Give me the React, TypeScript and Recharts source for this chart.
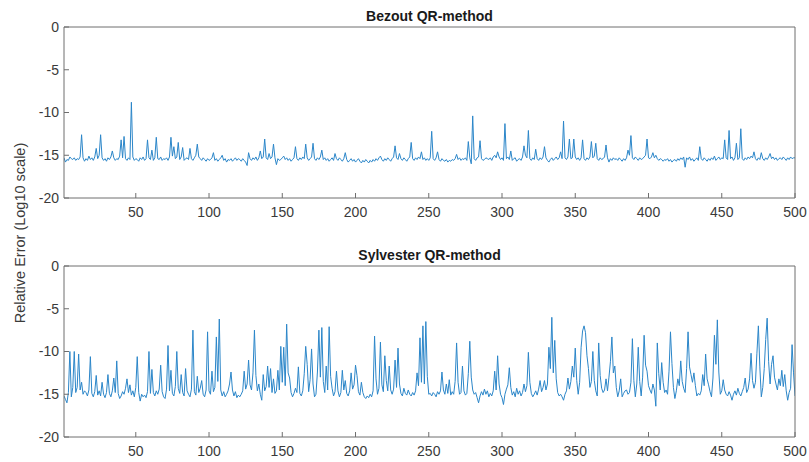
import React from "react";
import { LineChart, Line, XAxis, YAxis } from "recharts";

const xTicks = [50, 100, 150, 200, 250, 300, 350, 400, 450, 500];
const yTicks = [-20, -15, -10, -5, 0];
const titles = ["Bezout QR-method", "Sylvester QR-method"];
const yLabel = "Relative Error (Log10 scale)";

const bezout = [
  -15.3, -15.8, -15.5, -15.6, -15.2, -15.4, -15.5, -15.3, -15.6, -15.4, -15.5, -15.2, -12.6, -15.3, -15.7, -15.4, -15.6, -15.1, -15.5, -15.3,
  -15.6, -15.2, -14.2, -15.4, -15.0, -12.6, -15.3, -15.6, -15.4, -15.7, -15.3, -15.5, -15.2, -14.5, -15.3, -15.6, -15.4, -15.5, -15.1, -13.2,
  -15.3, -12.8, -15.4, -15.6, -15.3, -15.5, -8.8, -15.2, -15.6, -15.4, -15.5, -15.7, -15.3, -15.5, -15.2, -15.6, -15.4, -13.2, -15.3, -15.5,
  -14.4, -15.6, -15.3, -12.9, -15.4, -15.5, -15.2, -15.6, -15.4, -15.5, -15.3, -15.6, -15.2, -12.9, -15.1, -14.0, -15.4, -15.2, -13.5, -15.5,
  -15.2, -14.1, -15.6, -15.4, -15.3, -15.5, -14.2, -15.4, -15.6, -15.3, -15.0, -13.7, -15.2, -15.4, -15.6, -15.3, -15.5, -15.7, -15.4, -15.6,
  -15.5, -15.3, -14.7, -15.6, -15.4, -15.7, -15.5, -15.3, -15.0, -15.6, -15.4, -15.8, -15.5, -15.6, -15.4, -15.7, -15.5, -15.3, -15.6, -15.4,
  -15.5, -15.7, -15.4, -15.6, -15.8, -16.2, -14.7, -15.4, -15.6, -15.3, -15.5, -15.2, -15.6, -15.3, -14.5, -15.4, -15.2, -13.1, -15.3, -15.5,
  -14.8, -15.4, -15.2, -13.7, -15.3, -16.1, -15.4, -15.6, -15.5, -15.3, -15.1, -15.5, -15.3, -15.6, -15.4, -15.7, -15.5, -15.3, -14.0, -15.4,
  -15.6, -15.3, -15.5, -15.2, -15.4, -13.7, -15.3, -15.6, -15.4, -15.2, -13.6, -15.4, -15.6, -15.3, -15.5, -15.2, -14.4, -15.5, -15.3, -15.6,
  -15.4, -15.7, -15.5, -15.3, -15.6, -14.8, -15.4, -15.6, -15.3, -15.5, -15.7, -15.4, -14.7, -15.5, -15.8, -15.6, -15.4, -15.7, -15.5, -15.8,
  -15.6, -15.4, -15.7, -15.9, -15.6, -15.8, -15.5, -15.7, -15.9, -15.6, -15.8, -15.5, -15.7, -15.4, -15.6, -15.3, -15.1, -15.5, -15.7, -15.4,
  -15.6, -15.3, -15.5, -15.7, -15.4, -15.2, -13.9, -15.3, -15.5, -14.8, -15.4, -15.6, -15.3, -15.5, -15.7, -15.4, -15.2, -13.5, -15.4, -15.6,
  -15.3, -15.5, -15.2, -15.4, -14.6, -15.5, -15.3, -15.6, -15.4, -15.6, -15.3, -12.2, -15.4, -15.6, -15.3, -14.6, -15.5, -15.7, -15.4, -15.6,
  -15.7, -15.5, -15.8, -15.6, -15.7, -15.5, -15.6, -15.4, -14.9, -15.5, -15.3, -15.6, -15.4, -15.5, -15.3, -15.6, -13.4, -15.3, -16.0, -10.4,
  -15.4, -15.6, -15.3, -15.2, -13.3, -15.4, -15.6, -15.5, -15.3, -15.4, -15.5, -15.3, -15.6, -15.2, -15.0, -15.3, -14.6, -15.2, -15.5, -15.3,
  -15.6, -11.3, -15.4, -15.2, -15.5, -14.5, -15.6, -15.4, -15.3, -15.7, -15.5, -15.4, -15.6, -15.2, -13.9, -15.0, -15.3, -12.1, -15.4, -15.6,
  -15.3, -15.5, -14.3, -15.4, -15.6, -15.3, -15.5, -15.2, -14.0, -15.3, -15.6, -15.8, -15.5, -15.3, -15.6, -15.4, -15.2, -15.5, -15.3, -14.6,
  -15.4, -11.0, -15.3, -15.5, -15.2, -13.1, -15.4, -15.3, -13.1, -15.2, -15.5, -15.3, -15.6, -15.3, -13.2, -15.4, -15.6, -15.3, -15.5, -15.2,
  -13.4, -15.3, -15.1, -13.6, -15.4, -15.6, -15.3, -15.5, -15.4, -15.2, -13.8, -15.3, -15.8, -15.4, -15.6, -15.3, -15.5, -15.4, -15.6, -15.3,
  -15.5, -15.7, -15.4, -15.6, -15.3, -14.4, -15.0, -12.7, -15.3, -15.5, -15.2, -15.4, -15.6, -15.3, -15.5, -15.4, -15.2, -15.0, -13.1, -15.3,
  -15.4, -15.2, -14.7, -15.3, -15.0, -15.4, -15.6, -15.4, -15.5, -15.7, -15.5, -15.6, -15.4, -15.7, -15.5, -15.8, -15.6, -15.5, -15.7, -15.4,
  -15.6, -15.3, -15.5, -15.2, -16.4, -15.3, -15.5, -15.2, -15.6, -15.4, -15.7, -15.5, -15.3, -15.6, -14.0, -15.4, -15.6, -15.3, -15.5, -15.7,
  -15.4, -15.6, -15.3, -15.5, -15.1, -15.6, -15.4, -15.2, -15.5, -15.3, -15.4, -13.2, -15.3, -15.5, -12.1, -15.4, -15.2, -15.6, -15.3, -13.6,
  -15.5, -15.3, -11.9, -15.4, -15.6, -15.3, -15.5, -15.2, -15.4, -15.1, -15.3, -14.6, -15.4, -15.6, -15.3, -15.5, -14.7, -15.4, -15.6, -15.3,
  -15.5, -15.2, -14.8, -15.4, -15.2, -15.5, -15.3, -15.6, -15.4, -15.3, -15.5, -15.2, -15.4, -15.6, -15.3, -15.5, -15.2, -15.4, -15.3, -15.3,
];

const sylvester = [
  -15.2, -15.6, -16.0, -14.8, -10.0, -15.3, -14.2, -10.0, -14.8, -14.2, -10.3, -14.5, -13.6, -15.0, -14.6, -14.8, -15.2, -14.5, -10.6, -14.9,
  -15.3, -14.7, -12.8, -15.1, -14.6, -15.2, -13.6, -15.0, -15.4, -14.8, -12.7, -14.9, -15.3, -14.6, -13.1, -14.8, -11.1, -14.9, -15.5, -15.2,
  -14.7, -15.0, -14.3, -13.2, -14.8, -13.9, -15.1, -14.6, -15.3, -14.2, -10.6, -14.8, -15.8, -15.0, -15.3, -15.1, -15.4, -14.7, -10.0, -14.9,
  -12.1, -14.8, -15.2, -14.6, -15.0, -14.4, -11.6, -14.7, -15.3, -15.5, -14.4, -9.3, -14.6, -12.2, -14.9, -15.2, -14.1, -10.0, -14.3, -14.9,
  -12.7, -14.8, -15.2, -12.0, -14.6, -15.0, -15.3, -14.4, -7.5, -14.7, -15.1, -12.9, -14.8, -14.3, -13.4, -15.0, -15.3, -14.5, -7.7, -14.6,
  -15.0, -12.3, -14.7, -14.2, -8.3, -13.5, -6.2, -14.5, -15.2, -14.7, -15.3, -15.0, -14.6, -13.8, -12.4, -14.5, -15.2, -14.7, -15.4, -15.1,
  -15.3, -15.0, -14.6, -12.3, -14.4, -13.8, -11.0, -13.9, -14.5, -12.5, -7.5, -12.8, -14.6, -13.8, -15.0, -15.7, -12.7, -14.6, -14.1, -11.7,
  -14.2, -12.0, -14.8, -13.2, -14.9, -14.6, -12.2, -14.5, -9.4, -13.6, -9.5, -14.0, -6.8, -12.5, -13.1, -14.8, -15.3, -14.9, -14.3, -14.8,
  -11.8, -14.9, -15.2, -14.6, -12.6, -9.4, -11.5, -14.7, -13.3, -9.7, -13.8, -15.3, -15.0, -12.4, -7.5, -13.0, -7.2, -13.5, -14.8, -11.7,
  -14.5, -7.1, -12.9, -14.3, -15.2, -14.7, -12.3, -14.6, -15.3, -14.8, -12.2, -14.5, -13.4, -14.9, -15.2, -14.6, -12.5, -14.4, -13.9, -11.6,
  -12.8, -14.7, -15.1, -13.6, -14.8, -15.3, -15.5, -15.2, -15.4, -15.0, -15.3, -14.6, -8.2, -13.2, -15.0, -14.3, -8.9, -13.9, -14.7, -10.5,
  -13.4, -14.6, -11.7, -14.5, -15.0, -14.4, -11.0, -14.2, -9.6, -13.8, -14.9, -15.2, -14.3, -14.9, -15.1, -14.5, -15.0, -15.2, -14.8, -15.1,
  -14.6, -12.5, -14.0, -8.4, -13.6, -7.0, -13.8, -6.5, -12.9, -15.0, -14.9, -15.2, -14.8, -15.0, -15.3, -14.7, -15.0, -14.6, -12.4, -14.5,
  -15.0, -13.8, -14.9, -13.3, -15.1, -14.7, -15.0, -13.5, -9.0, -13.6, -15.0, -14.8, -11.7, -14.6, -15.1, -14.9, -12.6, -8.8, -13.0, -14.5,
  -15.0, -14.8, -15.4, -16.0, -15.2, -14.7, -15.1, -14.4, -15.0, -14.6, -15.3, -14.9, -15.2, -14.6, -12.3, -14.5, -10.5, -13.8, -15.0, -15.4,
  -16.2, -15.0, -14.4, -13.9, -11.9, -14.2, -15.1, -14.7, -15.3, -14.3, -15.0, -14.6, -15.2, -14.8, -13.8, -14.7, -14.0, -10.1, -13.6, -14.9,
  -15.3, -15.0, -14.6, -15.1, -14.4, -13.4, -14.7, -14.2, -13.4, -14.5, -13.8, -9.5, -12.0, -6.0, -12.5, -8.7, -13.2, -14.8, -15.2, -15.0,
  -15.3, -15.7, -15.0, -14.6, -13.1, -14.4, -13.5, -11.7, -13.0, -9.6, -13.4, -15.0, -13.6, -9.5, -7.6, -7.0, -7.8, -10.5, -12.0, -14.2,
  -13.5, -10.0, -13.4, -14.6, -15.2, -9.0, -12.8, -14.3, -14.8, -14.5, -13.2, -14.6, -13.0, -11.2, -8.3, -12.5, -11.7, -14.2, -15.3, -14.6,
  -13.2, -15.3, -14.9, -14.6, -14.5, -15.0, -14.8, -13.6, -8.5, -13.4, -15.3, -13.8, -9.5, -13.5, -15.2, -13.0, -8.1, -11.6, -12.3, -14.0,
  -14.5, -14.9, -13.8, -14.5, -16.4, -9.0, -12.6, -14.5, -11.3, -13.6, -14.8, -14.5, -15.0, -12.3, -7.7, -11.4, -14.2, -15.5, -14.6, -13.2,
  -14.0, -11.1, -13.5, -14.3, -14.8, -12.0, -7.7, -11.8, -12.7, -13.6, -12.5, -14.0, -15.2, -14.9, -15.1, -14.6, -12.7, -14.0, -10.3, -13.2,
  -13.9, -14.7, -15.3, -13.1, -8.1, -11.5, -6.3, -12.4, -15.0, -14.6, -13.3, -14.5, -15.0, -15.2, -14.7, -15.1, -15.7, -15.0, -14.6, -15.1,
  -14.3, -14.9, -15.2, -14.7, -14.2, -13.1, -14.8, -14.4, -13.2, -10.2, -13.4, -14.3, -13.6, -10.2, -7.0, -11.8, -15.3, -14.2, -12.0, -8.6,
  -6.1, -11.2, -13.8, -11.5, -10.5, -13.0, -13.8, -14.5, -13.2, -14.0, -12.2, -14.1, -12.7, -14.6, -15.7, -14.8, -14.3, -9.2, -12.5, -15.2,
];

const FONT = '"Liberation Sans", Arial, Helvetica, sans-serif';
const AXIS = "#6e6e6e";
const TEXT = "#3a3a3a";
const LINE = "#2b86c9";

function Panel({ values, title, top }: { values: number[]; title: string; top: number }) {
  const data = values.map((v, k) => ({ i: k + 1, v }));
  return (
    <div style={{ position: "absolute", left: 0, top, width: 809, height: 240 }}>
      <div
        style={{
          position: "absolute",
          left: 64,
          width: 731,
          top: 7,
          textAlign: "center",
          fontFamily: FONT,
          fontWeight: "bold",
          fontSize: 14,
          color: "#1a1a1a",
          lineHeight: "18px",
        }}
      >
        {title}
      </div>
      <LineChart width={809} height={240} data={data} margin={{ top: 27, right: 14, bottom: 12, left: 0 }}>
        <XAxis
          dataKey="i"
          type="number"
          domain={[1, 500]}
          ticks={xTicks}
          allowDataOverflow
          height={30}
          tickSize={-5}
          tickMargin={14}
          axisLine={{ stroke: AXIS }}
          tickLine={{ stroke: AXIS }}
          tick={{ fill: TEXT, fontSize: 14, fontFamily: FONT }}
          interval={0}
        />
        <XAxis
          xAxisId="top"
          dataKey="i"
          type="number"
          orientation="top"
          mirror
          domain={[1, 500]}
          ticks={xTicks}
          allowDataOverflow
          tick={false}
          tickSize={5}
          axisLine={{ stroke: AXIS }}
          tickLine={{ stroke: AXIS }}
          interval={0}
        />
        <YAxis
          type="number"
          domain={[-20, 0]}
          ticks={yTicks}
          allowDataOverflow
          width={64}
          tickSize={-5}
          tickMargin={10}
          axisLine={{ stroke: AXIS }}
          tickLine={{ stroke: AXIS }}
          tick={{ fill: TEXT, fontSize: 14, fontFamily: FONT }}
          interval={0}
        />
        <YAxis
          yAxisId="right"
          type="number"
          orientation="right"
          mirror
          domain={[-20, 0]}
          ticks={yTicks}
          allowDataOverflow
          tick={false}
          tickSize={5}
          axisLine={{ stroke: AXIS }}
          tickLine={{ stroke: AXIS }}
          interval={0}
        />
        <Line
          type="linear"
          dataKey="v"
          stroke={LINE}
          strokeWidth={1}
          dot={false}
          activeDot={false}
          isAnimationActive={false}
        />
      </LineChart>
    </div>
  );
}

export default function App() {
  return (
    <div style={{ position: "absolute", left: 0, top: 0, width: 809, height: 462, background: "#fff", overflow: "hidden" }}>
      <Panel values={bezout} title={titles[0]} top={0} />
      <Panel values={sylvester} title={titles[1]} top={239} />
      <div
        style={{
          position: "absolute",
          left: 20,
          top: 233,
          transform: "translate(-50%, -50%) rotate(-90deg)",
          whiteSpace: "nowrap",
          fontFamily: FONT,
          fontSize: 14.5,
          color: TEXT,
        }}
      >
        {yLabel}
      </div>
    </div>
  );
}
